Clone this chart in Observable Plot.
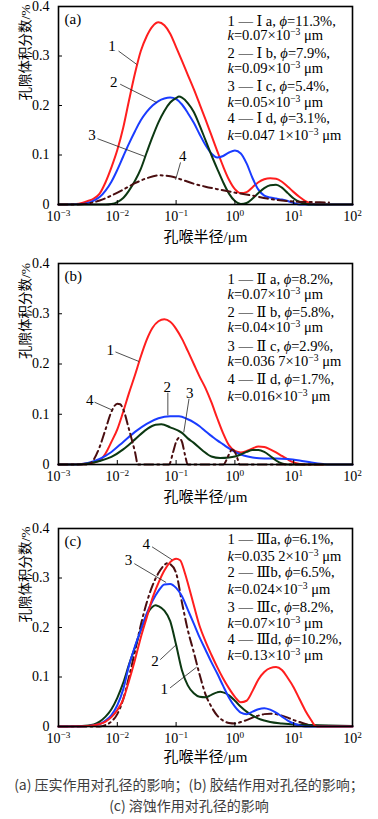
<!DOCTYPE html>
<html><head><meta charset="utf-8">
<script src="https://cdn.jsdelivr.net/npm/d3@7"></script>
<script src="https://cdn.jsdelivr.net/npm/@observablehq/plot@0.6"></script>
<style>
html,body{margin:0;padding:0;background:#fff;}
#wrap{width:378px;}
.panel svg{display:block;}
#cap{font-family:"Noto Sans CJK SC",sans-serif;font-size:14px;color:#3c3c3c;text-align:center;line-height:21px;padding-top:9px;}
</style></head><body>
<div id="wrap">
<div id="pa" class="panel"></div>
<div id="pb" class="panel"></div>
<div id="pc" class="panel"></div>
<div id="cap"><div>(a) 压实作用对孔径的影响；(b) 胶结作用对孔径的影响；</div><div>(c) 溶蚀作用对孔径的影响</div></div>
</div>
<script>
// ---------- axis ticks & labels ----------
const xTicks = [0.001, 0.01, 0.1, 1, 10, 100];
const xTickLabels = ["10⁻³", "10⁻²", "10⁻¹", "10⁰", "10¹", "10²"];
const yTicks = [0, 0.1, 0.2, 0.3, 0.4];
const yTickLabels = ["0", "0.1", "0.2", "0.3", "0.4"];
const xLabel = "孔喉半径/μm";
const yLabel = "孔隙体积分数/%";

// ---------- panel (a): [radius μm, fraction %] ----------
const aIa = [[0.001,0],[0.002,0.001],[0.00251,0.003],[0.00316,0.007],[0.00398,0.012],[0.00501,0.022],[0.00631,0.045],[0.00794,0.075],[0.01,0.11],[0.0126,0.155],[0.0158,0.21],[0.02,0.265],[0.0251,0.31],[0.0316,0.34],[0.0398,0.36],[0.0501,0.368],[0.0631,0.362],[0.0794,0.345],[0.1,0.318],[0.126,0.29],[0.158,0.262],[0.2,0.233],[0.251,0.203],[0.316,0.172],[0.398,0.14],[0.501,0.108],[0.631,0.077],[0.794,0.05],[1,0.031],[1.26,0.023],[1.58,0.025],[2,0.035],[2.51,0.045],[3.16,0.051],[3.98,0.053],[5.01,0.052],[6.31,0.046],[7.94,0.036],[10,0.025],[12.6,0.015],[15.8,0.007],[20,0.002],[25.1,0],[100,0]];
const aIb = [[0.001,0],[0.00251,0.001],[0.00316,0.003],[0.00398,0.008],[0.00501,0.015],[0.00631,0.028],[0.00794,0.046],[0.01,0.07],[0.0126,0.097],[0.0158,0.123],[0.02,0.148],[0.0251,0.17],[0.0316,0.187],[0.0398,0.2],[0.0501,0.209],[0.0631,0.214],[0.0794,0.216],[0.1,0.213],[0.126,0.202],[0.158,0.185],[0.2,0.165],[0.251,0.142],[0.316,0.12],[0.398,0.103],[0.501,0.095],[0.631,0.098],[0.794,0.105],[1,0.109],[1.26,0.103],[1.58,0.083],[2,0.053],[2.51,0.03],[3.16,0.018],[3.98,0.014],[5.01,0.012],[6.31,0.01],[7.94,0.007],[10,0.003],[12.6,0],[100,0]];
const aIc = [[0.001,0],[0.00631,0],[0.00794,0.001],[0.01,0.005],[0.0126,0.013],[0.0158,0.028],[0.02,0.048],[0.0251,0.072],[0.0316,0.105],[0.0398,0.137],[0.0501,0.166],[0.0631,0.189],[0.0794,0.206],[0.1,0.215],[0.112,0.218],[0.126,0.216],[0.158,0.205],[0.2,0.187],[0.251,0.16],[0.316,0.13],[0.398,0.1],[0.501,0.072],[0.631,0.045],[0.794,0.022],[1,0.007],[1.26,0.001],[1.58,0.003],[2,0.012],[2.51,0.023],[3.16,0.033],[3.98,0.039],[5.01,0.04],[6.31,0.034],[7.94,0.023],[10,0.012],[12.6,0.005],[15.8,0.001],[20,0],[100,0]];
const aId = [[0.001,0],[0.002,0],[0.00316,0.002],[0.00501,0.008],[0.00794,0.018],[0.0126,0.03],[0.02,0.043],[0.0316,0.053],[0.0501,0.059],[0.0794,0.057],[0.126,0.05],[0.2,0.042],[0.316,0.036],[0.501,0.031],[1,0.024],[2,0.018],[3.55,0.012],[6.31,0.008],[10,0.006],[20,0.005],[39.8,0.004]];
const aLegend = ["1 — Ⅰ a, ϕ=11.3%,", "k=0.07×10⁻³ μm", "2 — Ⅰ b, ϕ=7.9%,", "k=0.09×10⁻³ μm", "3 — Ⅰ c, ϕ=5.4%,", "k=0.05×10⁻³ μm", "4 — Ⅰ d, ϕ=3.1%,", "k=0.047 1×10⁻³ μm"];
const aNumbers = [["1",0.0081,0.32],["2",0.0087,0.247],["3",0.0037,0.141],["4",0.13,0.098]];
const aLeaders = [[0.0105,0.31,0.0214,0.283],[0.0112,0.243,0.0468,0.206],[0.0046,0.133,0.0295,0.097],[0.119,0.085,0.098,0.05]];

// ---------- panel (b) ----------
const bIIa = [[0.001,0],[0.00251,0.001],[0.00398,0.004],[0.00501,0.008],[0.00631,0.022],[0.00794,0.045],[0.01,0.07],[0.0126,0.105],[0.0158,0.142],[0.02,0.178],[0.0251,0.215],[0.0316,0.248],[0.0398,0.272],[0.0501,0.285],[0.0631,0.289],[0.0794,0.284],[0.1,0.27],[0.126,0.25],[0.158,0.226],[0.2,0.2],[0.251,0.175],[0.316,0.152],[0.398,0.124],[0.501,0.092],[0.631,0.062],[0.794,0.038],[1,0.027],[1.26,0.024],[1.58,0.027],[2,0.032],[2.51,0.036],[3.16,0.035],[3.98,0.03],[5.01,0.024],[6.31,0.017],[7.94,0.01],[10,0.004],[12.6,0.001],[15.8,0],[100,0]];
const bIIb = [[0.001,0],[0.002,0],[0.00316,0.003],[0.00501,0.011],[0.00794,0.025],[0.0126,0.045],[0.02,0.065],[0.0316,0.081],[0.0501,0.092],[0.0794,0.096],[0.112,0.096],[0.158,0.09],[0.2,0.084],[0.251,0.076],[0.316,0.066],[0.398,0.057],[0.501,0.048],[0.631,0.04],[0.794,0.032],[1,0.025],[1.41,0.018],[2,0.014],[3.16,0.012],[5.01,0.012],[7.94,0.011],[12.6,0.008],[20,0.004],[31.6,0.001],[39.8,0],[100,0]];
const bIIc = [[0.001,0],[0.002,0],[0.00316,0.002],[0.00501,0.007],[0.00794,0.015],[0.0126,0.03],[0.02,0.05],[0.0316,0.07],[0.0447,0.079],[0.0562,0.08],[0.0794,0.074],[0.126,0.063],[0.158,0.052],[0.2,0.043],[0.282,0.028],[0.398,0.016],[0.562,0.013],[0.794,0.014],[1,0.016],[1.26,0.02],[1.58,0.025],[2,0.029],[2.51,0.029],[3.16,0.025],[3.98,0.017],[5.01,0.008],[6.31,0.002],[7.94,0],[100,0]];
const bIId = [[0.001,0],[0.00316,0],[0.00398,0.01],[0.00501,0.035],[0.00631,0.07],[0.00794,0.105],[0.01,0.121],[0.0112,0.12],[0.0126,0.11],[0.0158,0.07],[0.02,0.025],[0.0224,0],[0.0759,0],[0.0891,0.025],[0.1,0.045],[0.112,0.053],[0.126,0.045],[0.141,0.02],[0.158,0],[0.631,0],[0.794,0.02],[0.891,0.03],[1,0.025],[1.12,0.01],[1.2,0],[31.6,0]];
const bLegend = ["1 — Ⅱ a, ϕ=8.2%,", "k=0.07×10⁻³ μm", "2 — Ⅱ b, ϕ=5.8%,", "k=0.04×10⁻³ μm", "3 — Ⅱ c, ϕ=2.9%,", "k=0.036 7×10⁻³ μm", "4 — Ⅱ d, ϕ=1.7%,", "k=0.016×10⁻³ μm"];
const bNumbers = [["1",0.0076,0.228],["2",0.0708,0.153],["3",0.17,0.142],["4",0.0034,0.128]];
const bLeaders = [[0.0093,0.224,0.0234,0.205],[0.0724,0.143,0.0724,0.098],[0.166,0.131,0.135,0.064],[0.0041,0.124,0.0083,0.108]];

// ---------- panel (c) ----------
const cIIIa = [[0.001,0],[0.00501,0],[0.00631,0.003],[0.00794,0.01],[0.01,0.025],[0.0126,0.055],[0.0158,0.1],[0.02,0.152],[0.0251,0.205],[0.0316,0.25],[0.0398,0.285],[0.0501,0.31],[0.0631,0.326],[0.0708,0.33],[0.0794,0.328],[0.1,0.31],[0.126,0.25],[0.158,0.195],[0.2,0.15],[0.251,0.105],[0.316,0.065],[0.398,0.04],[0.501,0.022],[0.631,0.012],[0.794,0.007],[1,0.006],[1.26,0.009],[1.58,0.013],[2,0.018],[2.51,0.022],[3.16,0.025],[3.98,0.026],[5.01,0.025],[6.31,0.022],[7.94,0.018],[10,0.013],[12.6,0.009],[15.8,0.005],[20,0.002],[25.1,0]];
const cIIIb = [[0.001,0],[0.00251,0.001],[0.00398,0.004],[0.00501,0.01],[0.00631,0.02],[0.00794,0.035],[0.01,0.058],[0.0126,0.088],[0.0158,0.125],[0.02,0.16],[0.0251,0.195],[0.0316,0.225],[0.0398,0.242],[0.0447,0.245],[0.0501,0.243],[0.0631,0.234],[0.0794,0.213],[0.1,0.165],[0.126,0.113],[0.158,0.083],[0.2,0.067],[0.251,0.06],[0.316,0.059],[0.398,0.064],[0.501,0.069],[0.562,0.07],[0.631,0.069],[0.794,0.063],[1,0.052],[1.26,0.04],[1.58,0.03],[2,0.022],[2.51,0.016],[3.16,0.012],[3.98,0.009],[6.31,0.006],[10,0.004],[20,0.003],[39.8,0.002],[100,0.001]];
const cIIIc = [[0.001,0],[0.00316,0.001],[0.00501,0.005],[0.00631,0.012],[0.00794,0.023],[0.01,0.043],[0.0126,0.075],[0.0158,0.123],[0.02,0.162],[0.0251,0.195],[0.0316,0.228],[0.0398,0.254],[0.0501,0.274],[0.0631,0.287],[0.0794,0.288],[0.1,0.28],[0.126,0.263],[0.158,0.236],[0.2,0.208],[0.251,0.18],[0.316,0.155],[0.398,0.13],[0.501,0.107],[0.631,0.082],[0.794,0.058],[1,0.04],[1.26,0.028],[1.58,0.025],[2,0.03],[2.51,0.035],[3.16,0.037],[3.98,0.034],[5.01,0.028],[6.31,0.02],[7.94,0.012],[10,0.006],[12.6,0.002],[15.8,0],[100,0]];
const cIIId = [[0.001,0],[0.00316,0.001],[0.00501,0.005],[0.00631,0.01],[0.00794,0.019],[0.01,0.033],[0.0126,0.055],[0.0158,0.092],[0.02,0.135],[0.0251,0.18],[0.0316,0.22],[0.0398,0.26],[0.0501,0.29],[0.0631,0.315],[0.0794,0.332],[0.1,0.339],[0.117,0.336],[0.141,0.31],[0.158,0.29],[0.2,0.245],[0.251,0.203],[0.316,0.172],[0.398,0.145],[0.501,0.12],[0.631,0.097],[0.794,0.077],[1,0.06],[1.26,0.049],[1.58,0.052],[2,0.072],[2.51,0.095],[3.16,0.11],[3.98,0.118],[5.01,0.12],[6.31,0.114],[7.94,0.098],[10,0.079],[12.6,0.055],[15.8,0.032],[20,0.012],[22.4,0.003],[25.1,0],[100,0]];
const cLegend = ["1 — Ⅲa, ϕ=6.1%,", "k=0.035 2×10⁻³ μm", "2 — Ⅲb, ϕ=6.5%,", "k=0.024×10⁻³ μm", "3 — Ⅲc, ϕ=8.2%,", "k=0.07×10⁻³ μm", "4 — Ⅲd, ϕ=10.2%,", "k=0.13×10⁻³ μm"];
const cNumbers = [["4",0.031,0.368],["3",0.0155,0.335],["2",0.0437,0.132],["1",0.063,0.075]];
const cLeaders = [[0.039,0.363,0.085,0.337],[0.0195,0.329,0.0676,0.291],[0.0537,0.135,0.1,0.165],[0.079,0.078,0.224,0.12]];

// ---------- drawing ----------
const serif = "Liberation Serif, Times New Roman, DejaVu Serif, Noto Sans CJK SC, serif";
const RED = "#ff1e1e", BLUE = "#1a3cff", GREEN = "#0c3812", MAROON = "#4a0e10";
const DASHDOT = "9,4,2,4";

const supMap = {"⁻": "−", "⁰": "0", "¹": "1", "²": "2", "³": "3"};
function richify(svg) {
  svg.querySelectorAll("text").forEach(t => {
    if (t.children.length) return;
    const s = t.textContent;
    if (!/[ϕ⁻⁰¹²³]/.test(s) && !s.startsWith("k=")) return;
    const fs = parseFloat(getComputedStyle(t).fontSize) || 14;
    const runs = [];
    for (let i = 0; i < s.length; i++) {
      const c = s[i];
      const type = supMap[c] ? "sup" : (c === "ϕ" || (c === "k" && i === 0)) ? "it" : "n";
      const ch = supMap[c] || c;
      if (runs.length && runs[runs.length - 1].type === type) runs[runs.length - 1].text += ch;
      else runs.push({type, text: ch});
    }
    t.textContent = "";
    let shift = 0;
    for (const r of runs) {
      const ts = document.createElementNS("http://www.w3.org/2000/svg", "tspan");
      ts.textContent = r.text;
      if (r.type === "sup") {
        ts.setAttribute("font-size", (fs * 0.66).toFixed(1));
        ts.setAttribute("dy", (-fs * 0.36).toFixed(1));
        shift = fs * 0.36;
      } else {
        if (shift) { ts.setAttribute("dy", shift.toFixed(1)); shift = 0; }
        if (r.type === "it") ts.setAttribute("font-style", "italic");
      }
      t.appendChild(ts);
    }
  });
}

function drawPanel(id, p) {
  const W = 378, ml = 58, mr = 26;
  const innerW = W - ml - mr;
  const innerH = p.height - p.mt - p.mb;
  const txt = {fontFamily: serif, fill: "#000"};
  const lines = p.series.map(s => Plot.line(s.data, {
    x: d => d[0], y: d => d[1], stroke: s.color, strokeWidth: 2,
    strokeDasharray: s.dash, curve: "monotone-x"
  }));
  const chart = Plot.plot({
    width: W, height: p.height,
    marginTop: p.mt, marginBottom: p.mb, marginLeft: ml, marginRight: mr,
    style: {fontFamily: serif, fontSize: "14px", color: "#000", background: "#fff", overflow: "visible"},
    x: {type: "log", domain: [0.001, 100]},
    y: {domain: [0, 0.4]},
    marks: [
      ...lines,
      Plot.link(p.leaders, {x1: d => d[0], y1: d => d[1], x2: d => d[2], y2: d => d[3], stroke: "#222", strokeWidth: 0.8}),
      Plot.text(p.numbers, {...txt, x: d => d[1], y: d => d[2], text: d => d[0], fontSize: 15}),
      Plot.ruleX(xTicks, {x: d => d, insetTop: innerH - 4, stroke: "#000", strokeWidth: 1}),
      Plot.ruleY(yTicks, {y: d => d, insetRight: innerW - 4, stroke: "#000", strokeWidth: 1}),
      Plot.frame({stroke: "#000", strokeWidth: 1.6}),
      Plot.axisX(xTicks, {...txt, fontSize: 14, tickSize: 0, tickPadding: 7, tickFormat: d => xTickLabels[xTicks.indexOf(d)], label: null}),
      Plot.axisY(yTicks, {...txt, fontSize: 14, tickSize: 0, tickPadding: 9, tickFormat: d => yTickLabels[yTicks.indexOf(d)], label: null}),
      Plot.text([xLabel], {...txt, text: d => d, frameAnchor: "bottom", dy: p.xLabelDy, lineAnchor: "middle", fontSize: 15}),
      Plot.text([yLabel], {...txt, text: d => d, frameAnchor: "left", dx: -33, dy: -5, rotate: -90, lineAnchor: "middle", fontSize: 13.5}),
      Plot.text([p.letter], {...txt, text: d => d, frameAnchor: "top-left", dx: 6, dy: 13, textAnchor: "start", lineAnchor: "middle", fontSize: 15}),
      ...p.legend.map((t, i) => Plot.text([t], {...txt, text: d => d, frameAnchor: "top-left", dx: 169, dy: p.legendDy[i], textAnchor: "start", lineAnchor: "middle", fontSize: 14.5}))
    ]
  });
  document.getElementById(id).appendChild(chart);
  richify(chart);
}

drawPanel("pa", {
  height: 250, mt: 6, mb: 46, xLabelDy: 33, letter: "(a)",
  series: [{data: aIa, color: RED}, {data: aIb, color: BLUE}, {data: aIc, color: GREEN}, {data: aId, color: MAROON, dash: DASHDOT}],
  legend: aLegend, legendDy: [15, 29, 47, 62, 80, 96, 112, 129],
  numbers: aNumbers, leaders: aLeaders
});
drawPanel("pb", {
  height: 260, mt: 13, mb: 46, xLabelDy: 33, letter: "(b)",
  series: [{data: bIIa, color: RED}, {data: bIIb, color: BLUE}, {data: bIIc, color: GREEN}, {data: bIId, color: MAROON, dash: DASHDOT}],
  legend: bLegend, legendDy: [16, 31, 49, 64, 83, 98, 116, 133],
  numbers: bNumbers, leaders: bLeaders
});
drawPanel("pc", {
  height: 255, mt: 18, mb: 39, xLabelDy: 31, letter: "(c)",
  series: [{data: cIIIa, color: MAROON, dash: DASHDOT}, {data: cIIIb, color: GREEN}, {data: cIIIc, color: BLUE}, {data: cIIId, color: RED}],
  legend: cLegend, legendDy: [11, 28, 44, 61, 79, 95, 111, 127],
  numbers: cNumbers, leaders: cLeaders
});
</script>
</body></html>
